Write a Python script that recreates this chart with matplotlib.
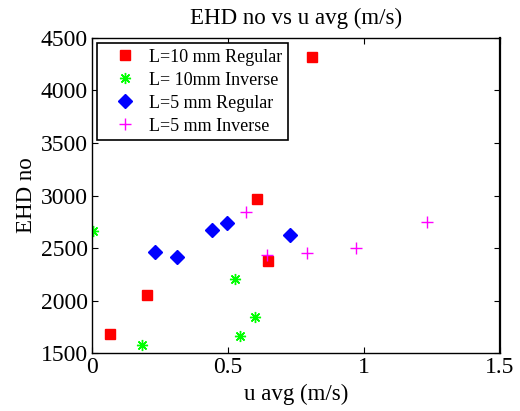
import matplotlib
matplotlib.use("Agg")
import matplotlib.pyplot as plt

plt.rcParams['font.family'] = ['Liberation Serif', 'DejaVu Serif']
plt.rcParams['mathtext.fontset'] = 'stix'

# Data
l10_reg_x = [0.066, 0.202, 0.608, 0.647, 0.809]
l10_reg_y = [1680, 2054, 2964, 2381, 4313]
l10_inv_x = [0.002, 0.183, 0.527, 0.544, 0.598]
l10_inv_y = [2666, 1579, 2210, 1662, 1848]
l5_reg_x = [0.232, 0.311, 0.442, 0.495, 0.728]
l5_reg_y = [2460, 2416, 2675, 2742, 2621]
l5_inv_x = [0.566, 0.645, 0.792, 0.971, 1.230]
l5_inv_y = [2840, 2435, 2457, 2498, 2751]
labels = ['L=10 mm Regular', 'L= 10mm Inverse', 'L=5 mm Regular', 'L=5 mm Inverse']
x_ticks = [0, 0.5, 1, 1.5]
x_ticklabels = ['0', '0.5', '1', '1.5']
y_ticks = [1500, 2000, 2500, 3000, 3500, 4000, 4500]

fig = plt.figure(figsize=(5.2, 4.11), dpi=100)
ax = fig.add_axes([0.177, 0.1404, 0.7845, 0.7676])

ax.plot(l10_reg_x, l10_reg_y, ls='none', marker='s', ms=7.2, color=(1, 0, 0), label=labels[0])
ax.plot(l10_inv_x, l10_inv_y, ls='none', marker=(8, 2, 0), ms=8, mew=1.0, color=(0, 1, 0), label=labels[1])
ax.plot(l5_reg_x, l5_reg_y, ls='none', marker='D', ms=7.2, color=(0, 0, 1), label=labels[2])
ax.plot(l5_inv_x, l5_inv_y, ls='none', marker='+', ms=9, mew=1.0, color=(1, 0, 1), label=labels[3])

ax.set_xlim(0, 1.5)
ax.set_ylim(1500, 4500)
ax.set_xticks(x_ticks)
ax.set_xticklabels(x_ticklabels)
ax.set_yticks(y_ticks)
ax.tick_params(direction='in', top=True, right=True, length=4, labelsize=17, pad=3)
for s in ax.spines.values():
    s.set_linewidth(1.0)
ax.spines['right'].set_linewidth(1.6)

ax.set_title('EHD no vs u avg (m/s)', fontsize=16.5, pad=10)
ax.set_xlabel('u avg (m/s)', fontsize=16.5, labelpad=4)
ax.set_ylabel('EHD no', fontsize=16.5, labelpad=3)

leg = ax.legend(loc='upper left', fontsize=13, frameon=True, fancybox=False,
                edgecolor='black', framealpha=1, borderpad=0.3, labelspacing=0.33,
                handlelength=2.4, handletextpad=0.15, borderaxespad=0.3)
leg.get_frame().set_linewidth(1.2)

fig.savefig('out.png', dpi=100)
